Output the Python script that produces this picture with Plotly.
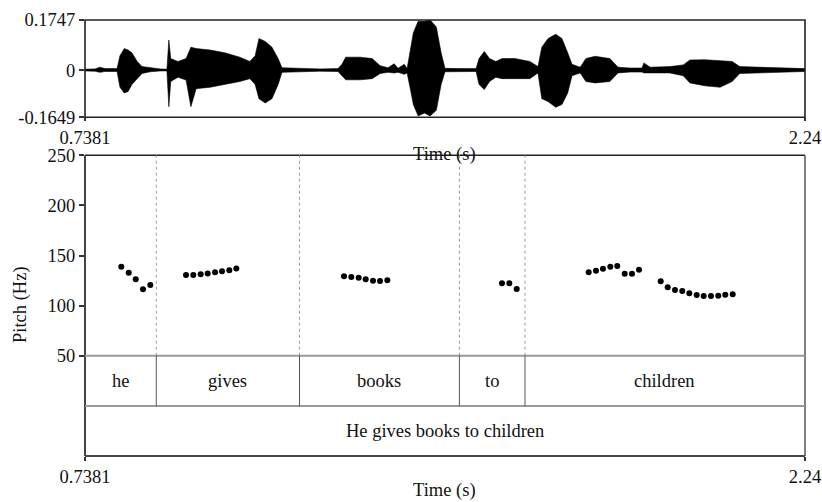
import plotly.graph_objects as go

# ---------------- data ----------------
t_start, t_end = 0.7381, 2.24
amp_min, amp_max = -0.1649, 0.1747
amp_ticks = [amp_max, 0.0, amp_min]
amp_ticktext = ["0.1747", "0", "-0.1649"]
time_ticktext = ["0.7381", "2.24"]
pitch_ticks = [50, 100, 150, 200, 250]

# waveform envelope (time, upper, lower)
env_t = [0.738, 0.759, 0.769, 0.780, 0.805, 0.811, 0.820, 0.828, 0.836, 0.847,
         0.857, 0.874, 0.895, 0.909, 0.913, 0.917, 0.932, 0.949, 0.959, 0.970,
         0.999, 1.030, 1.061, 1.082, 1.093, 1.101, 1.114, 1.128, 1.141, 1.149,
         1.187, 1.228, 1.266, 1.274, 1.282, 1.312, 1.337, 1.354, 1.370, 1.383,
         1.391, 1.404, 1.410, 1.416, 1.423, 1.433, 1.446, 1.458, 1.471, 1.481,
         1.489, 1.520, 1.554, 1.560, 1.571, 1.582, 1.595, 1.608, 1.635, 1.666,
         1.683, 1.691, 1.704, 1.720, 1.733, 1.745, 1.754, 1.771, 1.783, 1.802,
         1.833, 1.850, 1.875, 1.900, 1.904, 1.917, 1.958, 1.986, 2.000, 2.031,
         2.063, 2.088, 2.104, 2.146, 2.188, 2.240]
env_hi = [0.003, 0.004, 0.010, 0.005, 0.005, 0.050, 0.075, 0.070, 0.060, 0.030,
          0.012, 0.008, 0.004, 0.003, 0.105, 0.040, 0.030, 0.040, 0.080, 0.075,
          0.070, 0.060, 0.045, 0.030, 0.050, 0.110, 0.100, 0.080, 0.040, 0.008,
          0.005, 0.004, 0.005, 0.020, 0.045, 0.045, 0.040, 0.015, 0.008, 0.022,
          0.006, 0.020, 0.005, 0.060, 0.130, 0.170, 0.170, 0.175, 0.150, 0.060,
          0.006, 0.005, 0.005, 0.040, 0.065, 0.040, 0.030, 0.040, 0.040, 0.030,
          0.012, 0.080, 0.110, 0.125, 0.110, 0.060, 0.020, 0.010, 0.040, 0.048,
          0.040, 0.010, 0.007, 0.007, 0.025, 0.010, 0.012, 0.018, 0.035, 0.036,
          0.034, 0.030, 0.012, 0.010, 0.008, 0.005]
env_lo = [-0.003, -0.004, -0.008, -0.005, -0.005, -0.060, -0.080, -0.075, -0.050, -0.030,
          -0.012, -0.006, -0.003, -0.003, -0.128, -0.040, -0.025, -0.035, -0.128, -0.065,
          -0.060, -0.050, -0.040, -0.030, -0.050, -0.100, -0.115, -0.100, -0.050, -0.008,
          -0.005, -0.004, -0.005, -0.020, -0.034, -0.034, -0.030, -0.012, -0.008, -0.010,
          -0.008, -0.015, -0.010, -0.060, -0.120, -0.160, -0.150, -0.160, -0.140, -0.050,
          -0.006, -0.005, -0.005, -0.050, -0.068, -0.040, -0.025, -0.030, -0.030, -0.030,
          -0.010, -0.100, -0.110, -0.130, -0.120, -0.080, -0.020, -0.010, -0.040, -0.045,
          -0.040, -0.010, -0.007, -0.007, -0.010, -0.010, -0.010, -0.020, -0.045, -0.055,
          -0.060, -0.040, -0.012, -0.010, -0.008, -0.005]

# pitch points
pitch_t = [0.8138, 0.8293, 0.8439, 0.8591, 0.8743,
           0.9488, 0.9640, 0.9794, 0.9940, 1.0093, 1.0239, 1.0391, 1.0537,
           1.2784, 1.2936, 1.3090, 1.3236, 1.3389, 1.3535, 1.3687,
           1.6079, 1.6232, 1.6386,
           1.7888, 1.8040, 1.8186, 1.8339, 1.8484, 1.8639, 1.8791, 1.8937,
           1.9390, 1.9536, 1.9688, 1.9840, 1.9987, 2.0141, 2.0287, 2.0439, 2.0591, 2.0737, 2.0892]
pitch_hz = [138.7, 132.7, 126.2, 116.3, 120.5,
            130.5, 130.5, 131.2, 132.1, 133.4, 134.4, 135.4, 137.1,
            129.2, 128.5, 127.8, 126.2, 124.8, 124.5, 125.2,
            122.2, 122.2, 116.6,
            133.4, 134.7, 136.7, 138.7, 139.4, 131.7, 131.7, 135.7,
            124.2, 118.3, 115.6, 114.6, 112.3, 110.6, 109.6, 109.6, 109.9, 110.9, 111.3]

# text grid
word_bounds = [0.8868, 1.1855, 1.5191, 1.6559]
words = ["he", "gives", "books", "to", "children"]
sentence = "He gives books to children"

# ---------------- layout geometry ----------------
W, H = 822, 502
FONT = "Liberation Serif, Times New Roman, serif"
FS = 18.5
X0, X1 = 85 / W, 805 / W


def py(pix):
    return 1 - pix / H


top_dom = [py(117.3), py(20)]
pitch_dom = [py(355.7), py(155.3)]
tier_dom = [py(456), py(355.7)]
tier_mid = py(406)

fig = go.Figure()

# waveform (filled envelope)
fig.add_trace(go.Scatter(
    x=env_t + env_t[::-1], y=env_hi + env_lo[::-1],
    fill="toself", fillcolor="black", mode="lines",
    line=dict(color="black", width=0.6),
    xaxis="x", yaxis="y", hoverinfo="skip", showlegend=False))
# zero line of waveform
fig.add_trace(go.Scatter(
    x=[t_start, t_end], y=[0, 0], mode="lines",
    line=dict(color="black", width=1), xaxis="x", yaxis="y",
    hoverinfo="skip", showlegend=False))

# pitch points
fig.add_trace(go.Scatter(
    x=pitch_t, y=pitch_hz, mode="markers",
    marker=dict(color="black", size=6),
    xaxis="x2", yaxis="y2", showlegend=False))

# empty trace so the text-grid subplot (x2, y3) exists and its time axis is drawn
fig.add_trace(go.Scatter(x=[], y=[], xaxis="x2", yaxis="y3",
                         mode="markers", showlegend=False, hoverinfo="skip"))

shapes = []
# waveform box
shapes.append(dict(type="rect", xref="paper", yref="paper",
                   x0=X0, x1=X1, y0=top_dom[0], y1=top_dom[1],
                   line=dict(color="#222", width=1.6)))
# lower panel box
shapes.append(dict(type="line", xref="paper", yref="paper", x0=X0, x1=X1,
                   y0=pitch_dom[1], y1=pitch_dom[1], line=dict(color="#222", width=1.6)))
shapes.append(dict(type="line", xref="paper", yref="paper", x0=X0, x1=X1,
                   y0=tier_dom[0], y1=tier_dom[0], line=dict(color="#444", width=2)))
shapes.append(dict(type="line", xref="paper", yref="paper", x0=X0, x1=X0,
                   y0=tier_dom[0], y1=pitch_dom[1], line=dict(color="#444", width=2)))
shapes.append(dict(type="line", xref="paper", yref="paper", x0=X1, x1=X1,
                   y0=tier_dom[0], y1=pitch_dom[1], line=dict(color="#555", width=1.5)))
# tier separators
for yy in [tier_dom[1], tier_mid]:
    shapes.append(dict(type="line", xref="paper", yref="paper", x0=X0, x1=X1,
                       y0=yy, y1=yy, line=dict(color="#999", width=2)))
# word boundaries
for b in word_bounds:
    shapes.append(dict(type="line", xref="x2", yref="paper", x0=b, x1=b,
                       y0=pitch_dom[0], y1=pitch_dom[1],
                       line=dict(color="#999", width=1, dash="dot")))
    shapes.append(dict(type="line", xref="x2", yref="paper", x0=b, x1=b,
                       y0=tier_mid, y1=tier_dom[1],
                       line=dict(color="#555", width=1)))

annotations = []
tfont = dict(family=FONT, size=FS, color="#111")
ctr = dict(showarrow=False, xanchor="center", yanchor="middle", font=tfont)
edges = [t_start] + word_bounds + [t_end]
for i, w in enumerate(words):
    annotations.append(dict(text=w, x=(edges[i] + edges[i + 1]) / 2, xref="x2",
                            y=(tier_mid + tier_dom[1]) / 2, yref="paper", **ctr))
annotations.append(dict(text=sentence, x=(t_start + t_end) / 2, xref="x2",
                        y=(tier_dom[0] + tier_mid) / 2, yref="paper", **ctr))
annotations.append(dict(text="Time (s)", x=(X0 + X1) / 2, xref="paper",
                        y=py(155), yref="paper", **ctr))
annotations.append(dict(text="Time (s)", x=(X0 + X1) / 2, xref="paper",
                        y=py(490), yref="paper", **ctr))
annotations.append(dict(text="Pitch (Hz)", x=20 / W, xref="paper",
                        y=py(305), yref="paper", textangle=-90, **ctr))

common = dict(showgrid=False, zeroline=False, showline=False, automargin=False,
              tickfont=dict(family=FONT, size=FS, color="#111"),
              tickcolor="#333", tickwidth=1.5)
fig.update_layout(
    template="none",
    font=dict(family=FONT, size=FS, color="#111"),
    width=W, height=H, margin=dict(l=0, r=0, t=0, b=0, pad=0),
    paper_bgcolor="white", plot_bgcolor="white",
    showlegend=False,
    xaxis=dict(domain=[X0, X1], range=[t_start, t_end], anchor="y",
               tickvals=[t_start, t_end], ticktext=time_ticktext,
               ticks="outside", ticklen=3, **common),
    yaxis=dict(domain=top_dom, range=[amp_min, amp_max], anchor="x",
               tickvals=amp_ticks, ticktext=amp_ticktext,
               ticks="outside", ticklen=5, **common),
    xaxis2=dict(domain=[X0, X1], range=[t_start, t_end], anchor="y3",
                tickvals=[t_start, t_end], ticktext=time_ticktext,
                ticks="outside", ticklen=4, **common),
    yaxis2=dict(domain=pitch_dom, range=[50, 250], anchor="x2",
                tickvals=pitch_ticks, ticks="outside", ticklen=5, **common),
    yaxis3=dict(domain=tier_dom, range=[0, 2], anchor="x2",
                showticklabels=False, ticks="", showgrid=False,
                zeroline=False, showline=False, automargin=False),
    shapes=shapes, annotations=annotations,
)

fig.write_html("out.html")
